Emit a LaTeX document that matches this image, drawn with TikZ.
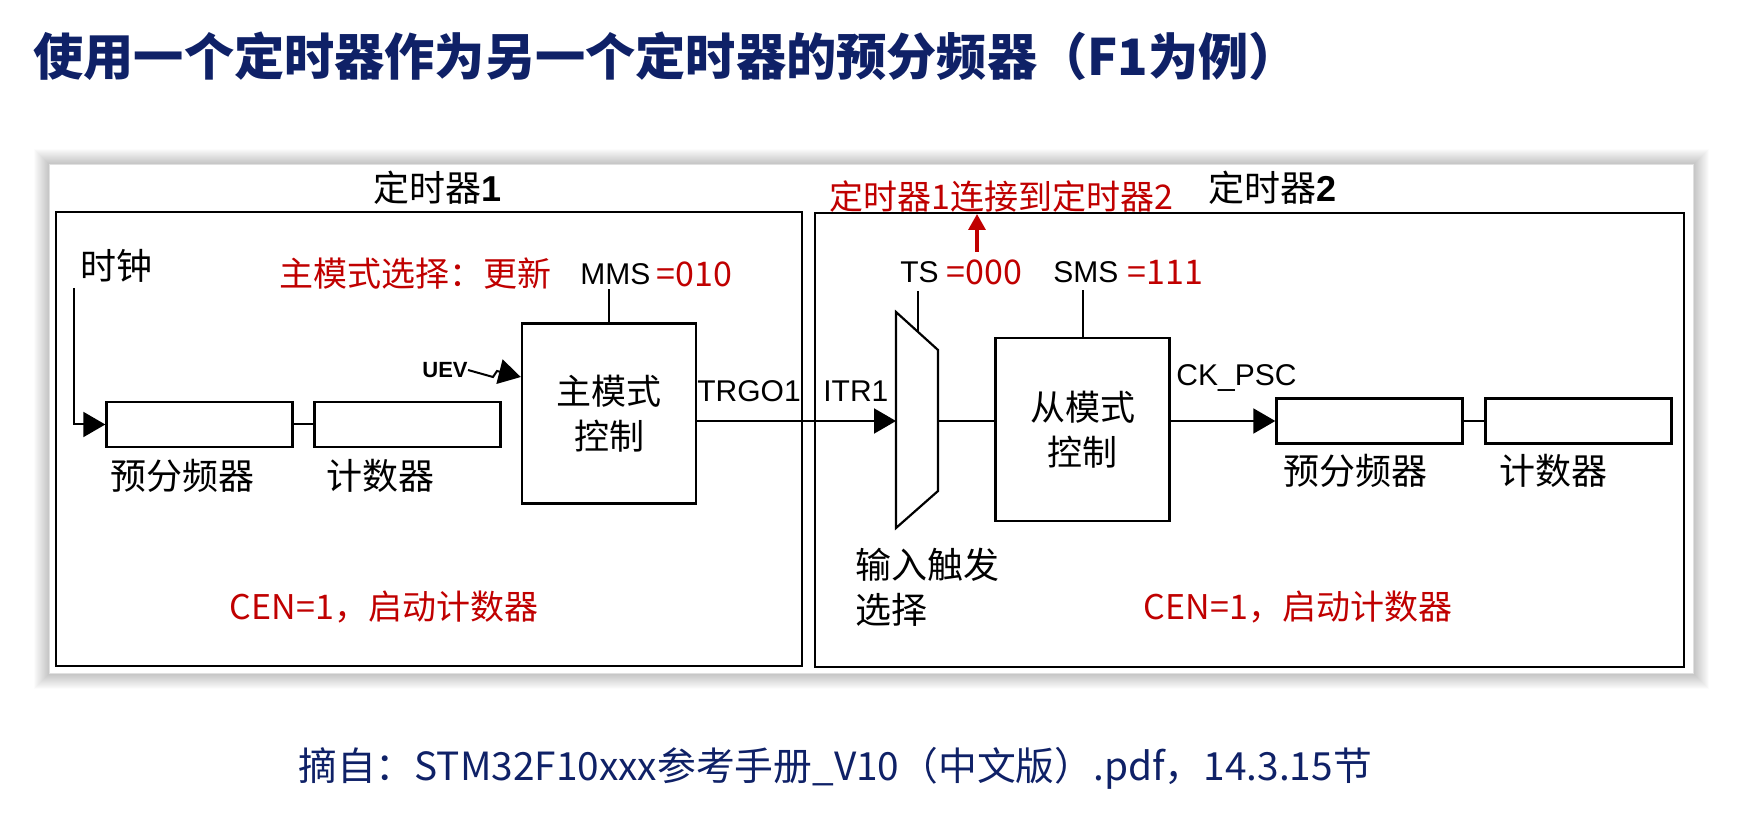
\documentclass[tikz,border=0pt]{standalone}
\usepackage{fontspec}
\setmainfont{Liberation Sans}
\newfontfamily\cjk{Noto Sans CJK SC}
\usetikzlibrary{arrows.meta,positioning,calc}
\definecolor{stnavy}{HTML}{0F2167}
\definecolor{regred}{HTML}{C00000}

\begin{document}
\begin{tikzpicture}[
  x=0.5pt, y=-0.5pt,
  block/.style={draw, line width=1.2pt, fill=white, inner sep=0pt},
  regbox/.style={block, minimum width=93pt, minimum height=22.5pt},
  ctrlbox/.style={block, minimum width=87pt, minimum height=90pt,
    font=\cjk\fontsize{17.5}{22.5}\selectfont, align=center},
  cjklabel/.style={font=\cjk\fontsize{18}{22.5}\selectfont, inner sep=0pt},
  siglabel/.style={font=\fontsize{15}{18}\selectfont, inner sep=0pt},
  reglabel/.style={font=\cjk\fontsize{17}{20}\selectfont, text=regred, inner sep=0pt},
  timerlabel/.style={font=\fontsize{18}{20}\selectfont, inner sep=0pt},
  wire/.style={line width=1pt},
  sigarrow/.style={wire, -{Triangle[length=11pt, width=12.5pt]}},
  timerbox/.style={draw, line width=1.3pt}
]
\useasboundingbox (0,0) rectangle (1746,828);

% ---- Slide title ----
\node[font=\cjk\bfseries\fontsize{25.1}{28}\selectfont, text=stnavy,
  anchor=west, inner sep=0pt] (title) at (33,56)
  {使用一个定时器作为另一个定时器的预分频器（F1为例）};

% ---- Screenshot panel with soft shadow ----
\foreach \g in {1,...,15}
  \draw[black, opacity={0.13-0.008*\g}, line width=1pt]
    (50-\g,165-\g) rectangle (1693+\g,673+\g);
\fill[white] (50,165) rectangle (1693,673);

% ---- Timer 1 ----
\draw[timerbox] (56,212) rectangle (802,666);
\node[timerlabel] (t1) at (438,188) {{\cjk 定时器}\textbf{1}};

\node[cjklabel, anchor=west] (clk) at (80,266) {时钟};
\coordinate (clkin) at (74,288);

\node[regbox] (pre1) at (199.5,424.5) {};
\node[regbox] (cnt1) at (407.5,424.5) {};
\node[cjklabel] at (182,476) {预分频器};
\node[cjklabel] at (380,476) {计数器};

\node[ctrlbox] (master) at (609,413.5) {主模式\\控制};

\draw[sigarrow] (clkin) |- (pre1.west);
\draw[wire] (pre1) -- (cnt1);

% master mode selection
\node[reglabel, anchor=west] (mmsnote) at (279,274) {主模式选择：更新};
\node[siglabel, anchor=west] (mms) at (580,274) {MMS};
\node[reglabel, anchor=west] at (mms.east) {\,=010};
\draw[wire] (master.north) -- ++(0,-33);

% update event
\node[font=\bfseries\fontsize{11}{12}\selectfont, inner sep=0pt, anchor=west]
  (uev) at (422,370) {UEV};
\draw[sigarrow] (uev.east) -- (493,377) -- (497,371) -- (master.west |- 0,377);

\node[siglabel, anchor=west] (trgo) at (697,391) {TRGO1};
\node[reglabel] at (384,607) {CEN=1，启动计数器};

% ---- Timer 2 ----
\draw[timerbox] (815,213) rectangle (1684,667);
\node[timerlabel] (t2) at (1272,188) {{\cjk 定时器}\textbf{2}};
\node[reglabel] (link) at (1001,197) {定时器1连接到定时器2};
\coordinate (linkfoot) at (977,252);
\draw[regred, line width=1.6pt, -{Triangle[length=8pt, width=8.5pt]}]
  (linkfoot) -- (977,214);

% trigger selection mux
\coordinate (muxin) at (896,421);
\coordinate (muxout) at (938,421);
\draw[wire, line width=1.1pt] (896,312) -- (938,350) -- (938,491) -- (896,528) -- cycle;
\node[siglabel, anchor=west] (itr) at (823,391) {ITR1};
\node[siglabel, anchor=west] (ts) at (900,272) {TS};
\node[reglabel, anchor=west] at (946,272) {=000};
\draw[wire] (918,291) -- (918,332);
\node[cjklabel, anchor=north west, align=left] (tsel) at (855,548) {输入触发\\选择};

\node[ctrlbox, minimum height=91.5pt] (slave) at (1082.5,429.5) {从模式\\控制};
\node[siglabel, anchor=west] (sms) at (1053,272) {SMS};
\node[reglabel, anchor=west] at (1127,272) {=111};
\draw[wire] (slave.north) -- ++(0,-47);

\node[regbox] (pre2) at (1369.5,421) {};
\node[regbox] (cnt2) at (1578.5,421) {};
\node[cjklabel] at (1355,471) {预分频器};
\node[cjklabel] at (1553,471) {计数器};
\node[siglabel, anchor=west] (ckpsc) at (1176,378) {CK\_PSC};

\draw[sigarrow] (master.east |- muxin) -- (muxin);
\draw[wire] (muxout) -- (slave.west |- muxout);
\draw[sigarrow] (slave.east |- pre2.west) -- (pre2.west);
\draw[wire] (pre2) -- (cnt2);

\node[reglabel] at (1298,607) {CEN=1，启动计数器};

% ---- Source note ----
\node[font=\cjk\fontsize{19.4}{22}\selectfont, text=stnavy, inner sep=0pt]
  (src) at (835,768) {摘自：STM32F10xxx参考手册\_V10（中文版）.pdf，14.3.15节};

\end{tikzpicture}
\end{document}
